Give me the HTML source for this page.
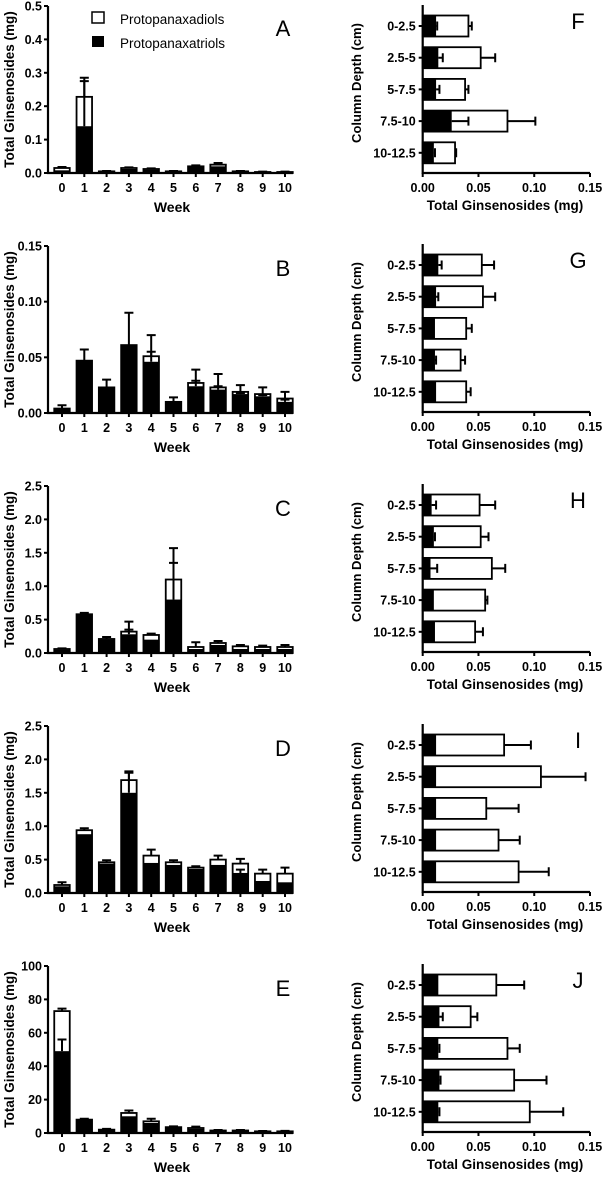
<!DOCTYPE html>
<html><head><meta charset="utf-8"><style>
body{margin:0;background:#fff;}
svg{display:block;font-family:"Liberation Sans",Arial,sans-serif;}
</style></head><body>
<svg id="fig" width="604" height="1180" viewBox="0 0 604 1180"></svg>
<script>
// ---- Left panels (weeks) data ----
const weeks = ["0","1","2","3","4","5","6","7","8","9","10"];
const aTotal = [0.015,0.228,0.005,0.015,0.012,0.005,0.02,0.025,0.005,0.003,0.003];
const aPPT   = [0.008,0.14,0.003,0.012,0.01,0.003,0.018,0.02,0.003,0.002,0.002];
const aErrT  = [0.003,0.057,0.001,0.002,0.002,0.001,0.003,0.005,0.001,0.001,0.001];
const aErrP  = [0,0.135,0,0,0,0,0,0,0,0,0];
const aTicks = ["0.0","0.1","0.2","0.3","0.4","0.5"];
const bTotal = [0.004,0.047,0.023,0.061,0.051,0.010,0.027,0.023,0.019,0.017,0.013];
const bPPT   = [0.004,0.047,0.023,0.061,0.046,0.010,0.024,0.021,0.017,0.015,0.010];
const bErrT  = [0.003,0.010,0.007,0.029,0.019,0.004,0.012,0.012,0.006,0.006,0.006];
const bErrP  = [0,0,0,0,0.009,0,0.005,0.003,0.001,0.001,0.002];
const bTicks = ["0.00","0.05","0.10","0.15"];
const cTotal = [0.06,0.58,0.21,0.32,0.27,1.10,0.09,0.15,0.10,0.09,0.09];
const cPPT   = [0.05,0.57,0.20,0.28,0.20,0.80,0.06,0.12,0.06,0.06,0.06];
const cErrT  = [0.01,0.02,0.03,0.15,0.02,0.47,0.07,0.03,0.02,0.02,0.03];
const cErrP  = [0,0,0,0.07,0,0.55,0,0,0,0,0];
const cTicks = ["0.0","0.5","1.0","1.5","2.0","2.5"];
const dTotal = [0.12,0.94,0.46,1.69,0.56,0.46,0.38,0.50,0.44,0.29,0.29];
const dPPT   = [0.10,0.88,0.44,1.50,0.45,0.42,0.36,0.42,0.30,0.18,0.16];
const dErrT  = [0.04,0.03,0.03,0.13,0.09,0.03,0.02,0.06,0.07,0.06,0.09];
const dErrP  = [0,0,0,0.30,0,0,0,0,0.05,0,0];
const dTicks = ["0.0","0.5","1.0","1.5","2.0","2.5"];
const eTotal = [73,8,2,12,7,3.5,3,1.5,1.5,1,1];
const ePPT   = [49,7.5,1.8,10,6,3,2.5,1.2,1.2,0.8,0.8];
const eErrT  = [1.5,0.5,0.5,1.5,1.5,0.5,0.8,0.3,0.3,0.2,0.3];
const eErrP  = [7,0,0,0,0,0,0,0,0,0,0];
const eTicks = ["0","20","40","60","80","100"];
// ---- Right panels (depths) data ----
const depths = ["0-2.5","2.5-5","5-7.5","7.5-10","10-12.5"];
const depthTicks = ["0.00","0.05","0.10","0.15"];
const fPPT=[0.012,0.014,0.012,0.026,0.010], fTotal=[0.041,0.052,0.038,0.076,0.029], fErrT=[0.003,0.013,0.003,0.025,0.001], fErrP=[0.001,0.004,0.003,0.015,0.001];
const gPPT=[0.014,0.012,0.011,0.011,0.012], gTotal=[0.053,0.054,0.039,0.034,0.039], gErrT=[0.011,0.011,0.005,0.004,0.004], gErrP=[0.003,0.002,0,0.001,0];
const hPPT=[0.008,0.010,0.007,0.010,0.011], hTotal=[0.051,0.052,0.062,0.056,0.047], hErrT=[0.014,0.007,0.012,0.002,0.007], hErrP=[0.004,0.001,0.006,0,0];
const iPPT=[0.012,0.012,0.012,0.012,0.012], iTotal=[0.073,0.106,0.057,0.068,0.086], iErrT=[0.024,0.040,0.029,0.019,0.027], iErrP=[0,0,0,0,0];
const jPPT=[0.014,0.015,0.014,0.015,0.014], jTotal=[0.066,0.043,0.076,0.082,0.096], jErrT=[0.025,0.006,0.011,0.029,0.030], jErrP=[0,0.003,0.001,0.001,0.001];

const NS="http://www.w3.org/2000/svg";
const svg=document.getElementById('fig');
function mk(tag,attrs,parent,text){const e=document.createElementNS(NS,tag);for(const k in attrs)e.setAttribute(k,attrs[k]);if(text!==undefined)e.textContent=text;(parent||svg).appendChild(e);return e;}

function leftPanel(letter,base,ticks,total,ppt,errT,errP,legend){
  const g=mk('g',{});
  
  
  const x0=48,x1=293,yb=base,yt=base-167;
  const ymax=parseFloat(ticks[ticks.length-1]);
  const Y=v=>yb-(v/ymax)*(yb-yt);
  const X=i=>62+i*22.3;
  const bw=15.5;
  for(let i=0;i<weeks.length;i++){
    const r1=mk('rect',{x:X(i)-bw/2,y:Y(total[i]),width:bw,height:yb-Y(total[i]),fill:'#fff',stroke:'#000','stroke-width':1.8},g);
    
    
    const r2=mk('rect',{x:X(i)-bw/2,y:Y(ppt[i]),width:bw,height:yb-Y(ppt[i]),fill:'#000'},g);
    
    
    [[total[i],errT[i]],[ppt[i],errP[i]]].forEach(([v,e])=>{
      if(e<=0)return;
      const eb=mk('path',{d:`M${X(i)} ${Y(v)}V${Y(v+e)}M${X(i)-4.5} ${Y(v+e)}H${X(i)+4.5}`,stroke:'#000','stroke-width':2,fill:'none'},g);
      
      
    });
  }
  const ax=mk('path',{d:`M${x0} ${yt}V${yb}H${x1}`,stroke:'#000','stroke-width':2.2,fill:'none'},g);
  
  
  ticks.forEach(t=>{
    const y=Y(parseFloat(t));
    mk('line',{x1:x0-4,x2:x0,y1:y,y2:y,stroke:'#000','stroke-width':2},g);
    const tl=mk('text',{x:x0-6,y:y+4.5,'text-anchor':'end','font-size':12.5,'font-weight':'bold'},g,t);
    
    
  });
  weeks.forEach((w,i)=>{
    mk('line',{x1:X(i),x2:X(i),y1:yb,y2:yb+4,stroke:'#000','stroke-width':2},g);
    const tl=mk('text',{x:X(i),y:yb+19,'text-anchor':'middle','font-size':12.5,'font-weight':'bold'},g,w);
    
    
  });
  const xt=mk('text',{x:172,y:yb+39,'text-anchor':'middle','font-size':14,'font-weight':'bold'},g,'Week');
  
  
  const cy=(yt+yb)/2;
  const yl=mk('text',{x:0,y:0,transform:`translate(14,${cy}) rotate(-90)`,'text-anchor':'middle','font-size':13.5,'font-weight':'bold'},g,'Total Ginsenosides (mg)');
  
  
  const pl=mk('text',{x:283,y:yt+30,'text-anchor':'middle','font-size':22},g,letter);
  
  
  if(legend){
    const lg=mk('g',{},g);
    
    
    mk('rect',{x:92,y:12,width:12,height:11,fill:'#fff',stroke:'#000','stroke-width':1.5},lg);
    mk('text',{x:120,y:24,'font-size':13.5},lg,'Protopanaxadiols');
    mk('rect',{x:92,y:36,width:12,height:11,fill:'#000'},lg);
    mk('text',{x:120,y:48,'font-size':13.5},lg,'Protopanaxatriols');
  }
}

function rightPanel(letter,base,ppt,total,errT,errP){
  const g=mk('g',{});
  
  
  const x0=422.7,x1=590,yb=base,yt=base-168;
  const X=v=>x0+(v/0.15)*(x1-x0);
  const Y=i=>yb-147+i*31.7;
  const bh=21;
  depths.forEach((d,i)=>{
    const r1=mk('rect',{x:x0,y:Y(i)-bh/2,width:X(total[i])-x0,height:bh,fill:'#fff',stroke:'#000','stroke-width':1.8},g);
    
    
    const r2=mk('rect',{x:x0,y:Y(i)-bh/2,width:X(ppt[i])-x0,height:bh,fill:'#000'},g);
    
    
    [[total[i],errT[i]],[ppt[i],errP[i]]].forEach(([v,e])=>{
      if(e<=0)return;
      const eb=mk('path',{d:`M${X(v)} ${Y(i)}H${X(v+e)}M${X(v+e)} ${Y(i)-4.5}V${Y(i)+4.5}`,stroke:'#000','stroke-width':2,fill:'none'},g);
      
      
    });
    mk('line',{x1:x0-4,x2:x0,y1:Y(i),y2:Y(i),stroke:'#000','stroke-width':2},g);
    const tl=mk('text',{x:x0-7,y:Y(i)+4.5,'text-anchor':'end','font-size':12.5,'font-weight':'bold'},g,d);
    
    
  });
  const ax=mk('path',{d:`M${x0} ${yt}V${yb}H${x1}`,stroke:'#000','stroke-width':2.2,fill:'none'},g);
  
  
  depthTicks.forEach(t=>{
    const x=X(parseFloat(t));
    mk('line',{x1:x,x2:x,y1:yb,y2:yb+4,stroke:'#000','stroke-width':2},g);
    const tl=mk('text',{x:x,y:yb+19,'text-anchor':'middle','font-size':12.5,'font-weight':'bold'},g,t);
    
    
  });
  const xt=mk('text',{x:505,y:yb+37,'text-anchor':'middle','font-size':13.5,'font-weight':'bold'},g,'Total Ginsenosides (mg)');
  
  
  const yl=mk('text',{x:0,y:0,transform:`translate(361,${yb-90}) rotate(-90)`,'text-anchor':'middle','font-size':13,'font-weight':'bold'},g,'Column Depth (cm)');
  
  
  const pl=mk('text',{x:578,y:yb-144,'text-anchor':'middle','font-size':22},g,letter);
  
  
}

leftPanel('A',173,aTicks,aTotal,aPPT,aErrT,aErrP,true);
leftPanel('B',413,bTicks,bTotal,bPPT,bErrT,bErrP,false);
leftPanel('C',653,cTicks,cTotal,cPPT,cErrT,cErrP,false);
leftPanel('D',893,dTicks,dTotal,dPPT,dErrT,dErrP,false);
leftPanel('E',1133,eTicks,eTotal,ePPT,eErrT,eErrP,false);
rightPanel('F',173,fPPT,fTotal,fErrT,fErrP);
rightPanel('G',412,gPPT,gTotal,gErrT,gErrP);
rightPanel('H',652,hPPT,hTotal,hErrT,hErrP);
rightPanel('I',892,iPPT,iTotal,iErrT,iErrP);
rightPanel('J',1132,jPPT,jTotal,jErrT,jErrP);
</script>
</body></html>
